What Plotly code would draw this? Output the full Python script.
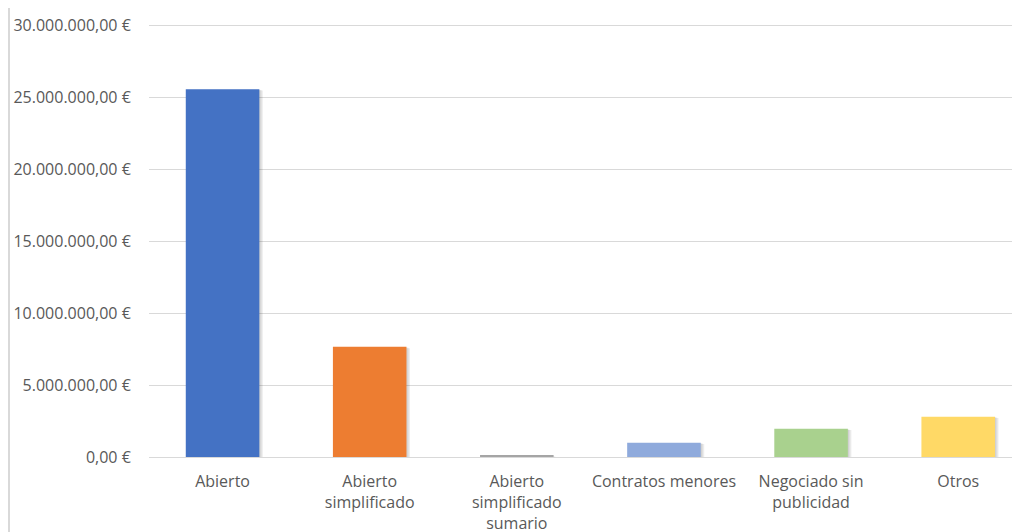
import plotly.graph_objects as go

categories = ["Abierto", "Abierto<br>simplificado", "Abierto<br>simplificado<br>sumario",
              "Contratos menores", "Negociado sin<br>publicidad", "Otros"]
values = [25540000, 7650000, 80000, 990000, 1960000, 2800000]
colors = ["#4472C4", "#ED7D31", "#A5A5A5", "#8FAADC", "#A9D18E", "#FFD966"]
tick_vals = [0, 5000000, 10000000, 15000000, 20000000, 25000000, 30000000]
tick_text = ["0,00 €", "5.000.000,00 €", "10.000.000,00 €", "15.000.000,00 €",
             "20.000.000,00 €", "25.000.000,00 €", "30.000.000,00 €"]

L, R, T, B = 141, 8, 13, 83
W, H = 1020, 532
PW, PH = W - L - R, H - T - B

fig = go.Figure()
# soft shadow
for k, a in enumerate([0.06, 0.06, 0.07]):
    fig.add_trace(go.Bar(
        x=categories, y=values, width=0.5, offset=-0.25 + 0.008 * (k + 1),
        marker=dict(color=f"rgba(0,0,0,{a})", line=dict(width=0)),
        hoverinfo="skip", showlegend=False, base=[-30000 * (k + 1)] * len(values),
    ))
fig.add_trace(go.Bar(
    x=categories, y=values, width=0.5, offset=-0.25,
    marker=dict(color=colors, line=dict(width=0)),
    showlegend=False,
))

fig.update_layout(
    width=W, height=H,
    margin=dict(l=L, r=R, t=T, b=B, autoexpand=False),
    paper_bgcolor="white", plot_bgcolor="white",
    barmode="overlay",
    font=dict(family="Open Sans", size=16, color="#595959"),
    xaxis=dict(range=[-0.5, 5.42], showgrid=False, showline=True, automargin=False,
               linecolor="#D9D9D9", linewidth=1, ticks="outside", ticklen=10,
               tickcolor="rgba(0,0,0,0)", tickfont=dict(size=16, color="#595959"),
               fixedrange=True),
    yaxis=dict(range=[0, 30280000], tickvals=tick_vals, ticktext=tick_text, automargin=False,
               showgrid=True, gridcolor="#D9D9D9", gridwidth=1, zeroline=False,
               ticks="outside", ticklen=14, tickcolor="rgba(0,0,0,0)",
               tickfont=dict(size=16, color="#595959"), fixedrange=True),
    shapes=[dict(type="line", xref="paper", yref="paper", x0=-(L - 1) / PW, x1=-(L - 1) / PW,
                 y0=-B / PH, y1=1 + T / PH, line=dict(color="#D9D9D9", width=2))],
)

fig.write_html("out.html")
